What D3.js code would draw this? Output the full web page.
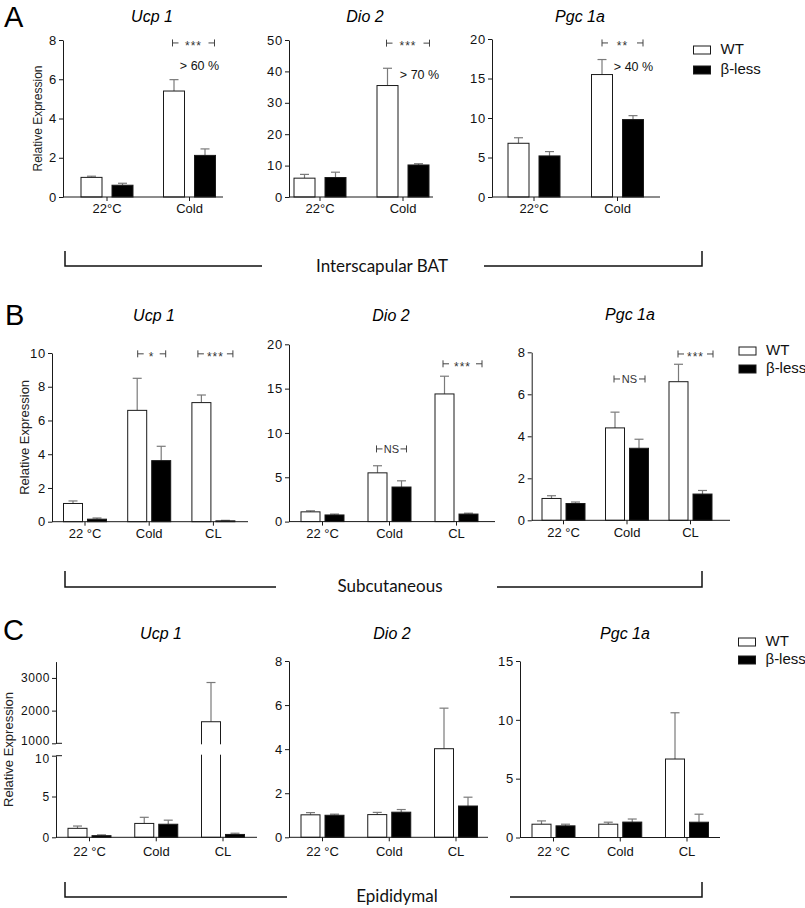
<!DOCTYPE html>
<html><head><meta charset="utf-8">
<script src="https://cdn.jsdelivr.net/npm/d3@7"></script>
<style>body{margin:0;background:#fff} svg{display:block}</style>
</head><body>
<svg id="chart" width="805" height="908"></svg>
<script>
// ---------- DATA ----------
const series = ["WT", "β-less"];
const catsA = ["22°C", "Cold"];
const catsBC = ["22 °C", "Cold", "CL"];

// Panel A – Interscapular BAT
const aUcp1WT = [1.0, 5.4],   aUcp1WTErr = [0.06, 0.58];
const aUcp1KO = [0.6, 2.12],  aUcp1KOErr = [0.1, 0.33];
const aDio2WT = [6.0, 35.5],  aDio2WTErr = [1.2, 5.5];
const aDio2KO = [6.2, 10.2],  aDio2KOErr = [1.7, 0.4];
const aPgcWT  = [6.8, 15.5],  aPgcWTErr  = [0.7, 1.9];
const aPgcKO  = [5.2, 9.8],   aPgcKOErr  = [0.55, 0.5];
// Panel B – Subcutaneous
const bUcp1WT = [1.08, 6.6, 7.06], bUcp1WTErr = [0.15, 1.9, 0.45];
const bUcp1KO = [0.15, 3.62, 0.05], bUcp1KOErr = [0.07, 0.85, 0.03];
const bDio2WT = [1.1, 5.5, 14.4],  bDio2WTErr = [0.12, 0.8, 2.0];
const bDio2KO = [0.75, 3.9, 0.85], bDio2KOErr = [0.1, 0.7, 0.1];
const bPgcWT  = [1.04, 4.4, 6.6],  bPgcWTErr  = [0.13, 0.75, 0.83];
const bPgcKO  = [0.8, 3.43, 1.25], bPgcKOErr  = [0.07, 0.43, 0.17];
// Panel C – Epididymal
const cUcp1WT = [1.1, 1.7, 1660],  cUcp1WTErr = [0.28, 0.75, 1200];
const cUcp1KO = [0.2, 1.6, 0.35],  cUcp1KOErr = [0.1, 0.5, 0.15];
const cDio2WT = [1.02, 1.03, 4.02], cDio2WTErr = [0.1, 0.1, 1.84];
const cDio2KO = [1.0, 1.14, 1.42],  cDio2KOErr = [0.05, 0.12, 0.4];
const cPgcWT  = [1.13, 1.13, 6.67], cPgcWTErr  = [0.28, 0.17, 3.93];
const cPgcKO  = [0.99, 1.31, 1.3],  cPgcKOErr  = [0.14, 0.26, 0.68];

// tick labels
const ticksAUcp1 = [0, 2, 4, 6, 8];
const ticksADio2 = [0, 10, 20, 30, 40, 50];
const ticksAPgc  = [0, 5, 10, 15, 20];
const ticksBUcp1 = [0, 2, 4, 6, 8, 10];
const ticksBDio2 = [0, 5, 10, 15, 20];
const ticksBPgc  = [0, 2, 4, 6, 8];
const ticksCUcp1Low = [0, 5, 10];
const ticksCUcp1High = [1000, 2000, 3000];
const ticksCDio2 = [0, 2, 4, 6, 8];
const ticksCPgc  = [0, 5, 10, 15];

// significance annotations
const sigAUcp1 = [{cat: "Cold", text: "***", y: 7.85, note: "> 60 %", noteY: 6.45}];
const sigADio2 = [{cat: "Cold", text: "***", y: 49, note: "> 70 %", noteY: 37.5}];
const sigAPgc  = [{cat: "Cold", text: "**",  y: 19.5, note: "> 40 %", noteY: 16.0}];
const sigBUcp1 = [{cat: "Cold", text: "*", y: 9.95}, {cat: "CL", text: "***", y: 9.95}];
const sigBDio2 = [{cat: "Cold", text: "NS", y: 8.2}, {cat: "CL", text: "***", y: 17.8}];
const sigBPgc  = [{cat: "Cold", text: "NS", y: 6.73}, {cat: "CL", text: "***", y: 7.92}];

const panelLetters = ["A", "B", "C"];
const tissues = ["Interscapular BAT", "Subcutaneous", "Epididymal"];

// ---------- LAYOUT ----------
const svg = d3.select("#chart");
const FONT = "'Liberation Sans', Arial, Helvetica, sans-serif";
const STROKE = "#1a1a1a";
const ERR = "#7a7a7a";

const charts = [
  {title: "Ucp 1", cats: catsA, wt: aUcp1WT, wtE: aUcp1WTErr, ko: aUcp1KO, koE: aUcp1KOErr, ticks: ticksAUcp1,
   yMax: 8, axisX: 63, yBase: 197, yTop: 40, xEnd: 223, c0: 107, step: 82.5, barW: 21, gap: 10,
   titleX: 152, titleY: 22, ylab: {x: 42, size: 12}, sig: sigAUcp1, sigDx: [4], sigHw: [21], noteDx: 10},
  {title: "Dio 2", cats: catsA, wt: aDio2WT, wtE: aDio2WTErr, ko: aDio2KO, koE: aDio2KOErr, ticks: ticksADio2,
   yMax: 50, axisX: 289, yBase: 197, yTop: 40, xEnd: 433, c0: 320, step: 83, barW: 21, gap: 10,
   titleX: 365, titleY: 22, sig: sigADio2, sigDx: [5], sigHw: [21.5], noteDx: 16.5},
  {title: "Pgc 1a", cats: catsA, wt: aPgcWT, wtE: aPgcWTErr, ko: aPgcKO, koE: aPgcKOErr, ticks: ticksAPgc,
   yMax: 20, axisX: 492, yBase: 197, yTop: 39, xEnd: 660, c0: 534, step: 83.5, barW: 21, gap: 10,
   titleX: 580, titleY: 22, sig: sigAPgc, sigDx: [5], sigHw: [20.5], noteDx: 16},

  {title: "Ucp 1", cats: catsBC, wt: bUcp1WT, wtE: bUcp1WTErr, ko: bUcp1KO, koE: bUcp1KOErr, ticks: ticksBUcp1,
   yMax: 10, axisX: 52, yBase: 521.7, yTop: 353, xEnd: 248, c0: 85, step: 64.2, barW: 19, gap: 5,
   titleX: 154, titleY: 321, ylab: {x: 28.5, size: 13}, sig: sigBUcp1, sigDx: [2.5, 2], sigHw: [14, 17.5]},
  {title: "Dio 2", cats: catsBC, wt: bDio2WT, wtE: bDio2WTErr, ko: bDio2KO, koE: bDio2KOErr, ticks: ticksBDio2,
   yMax: 20, axisX: 289, yBase: 521.6, yTop: 344.3, xEnd: 495, c0: 322.5, step: 67, barW: 19, gap: 5,
   titleX: 391, titleY: 321, sig: sigBDio2, sigDx: [2, 6], sigHw: [15, 19.5]},
  {title: "Pgc 1a", cats: catsBC, wt: bPgcWT, wtE: bPgcWTErr, ko: bPgcKO, koE: bPgcKOErr, ticks: ticksBPgc,
   yMax: 8, axisX: 531.7, yBase: 520.3, yTop: 352.3, xEnd: 730, c0: 563.5, step: 63.5, barW: 19, gap: 5,
   titleX: 630, titleY: 320, sig: sigBPgc, sigDx: [2.5, 5], sigHw: [15.5, 17.5]},

  {title: "Ucp 1", cats: catsBC, wt: cUcp1WT, wtE: cUcp1WTErr, ko: cUcp1KO, koE: cUcp1KOErr, ticks: ticksCUcp1Low,
   ticksHigh: ticksCUcp1High, broken: {lowMax: 10, lowTop: 755.7, highMin: 1000, highMax: 3500, highBase: 743.3, highTop: 661.6},
   yMax: 10, axisX: 56, yBase: 837.3, yTop: 755.7, xEnd: 257, c0: 89.5, step: 66.75, barW: 19, gap: 5,
   titleX: 161, titleY: 639, ylab: {x: 12.5, size: 13}, labPad: 5},
  {title: "Dio 2", cats: catsBC, wt: cDio2WT, wtE: cDio2WTErr, ko: cDio2KO, koE: cDio2KOErr, ticks: ticksCDio2,
   yMax: 8, axisX: 289, yBase: 837.3, yTop: 661, xEnd: 488, c0: 322.5, step: 66.75, barW: 19, gap: 5,
   titleX: 392, titleY: 639, labPad: 5},
  {title: "Pgc 1a", cats: catsBC, wt: cPgcWT, wtE: cPgcWTErr, ko: cPgcKO, koE: cPgcKOErr, ticks: ticksCPgc,
   yMax: 15, axisX: 520, yBase: 837.5, yTop: 661, xEnd: 720, c0: 553.5, step: 66.75, barW: 19, gap: 5,
   titleX: 625, titleY: 639, labPad: 5}
];

function styleAxis(sel) {
  sel.select(".domain").attr("stroke", STROKE).attr("stroke-width", 1);
  sel.selectAll(".tick line").attr("stroke", STROKE).attr("stroke-width", 1);
  sel.selectAll(".tick text").attr("fill", "#111").attr("font-family", FONT).attr("font-size", 13);
}

function drawChart(c) {
  const g = svg.append("g");
  const x0 = d3.scaleBand().domain(c.cats)
    .range([c.c0 - c.step / 2, c.c0 - c.step / 2 + c.step * c.cats.length]);
  const pairW = 2 * c.barW + c.gap;
  const x1 = d3.scaleBand().domain(series).range([-pairW / 2, pairW / 2])
    .paddingInner(c.gap / (c.barW + c.gap));
  const cx = cat => x0(cat) + x0.bandwidth() / 2;

  let y, yLow, yHigh;
  if (c.broken) {
    const b = c.broken;
    yLow = d3.scaleLinear().domain([0, b.lowMax]).range([c.yBase, b.lowTop]);
    yHigh = d3.scaleLinear().domain([b.highMin, b.highMax]).range([b.highBase, b.highTop]);
    y = v => v <= b.lowMax ? yLow(v) : yHigh(v);
  } else {
    yLow = d3.scaleLinear().domain([0, c.yMax]).range([c.yBase, c.yTop]);
    y = yLow;
  }

  const rows = [];
  c.cats.forEach((cat, i) => {
    rows.push({cat, s: series[0], v: c.wt[i], e: c.wtE[i]});
    rows.push({cat, s: series[1], v: c.ko[i], e: c.koE[i]});
  });

  // error bars (upper only)
  const eg = g.append("g").attr("stroke", ERR).attr("stroke-width", 1.2).attr("fill", "none");
  rows.forEach(d => {
    const xm = cx(d.cat) + x1(d.s) + x1.bandwidth() / 2;
    eg.append("line").attr("x1", xm).attr("x2", xm).attr("y1", y(d.v)).attr("y2", y(d.v + d.e));
    eg.append("line").attr("x1", xm - 4.5).attr("x2", xm + 4.5).attr("y1", y(d.v + d.e)).attr("y2", y(d.v + d.e));
  });

  // bars
  g.append("g").selectAll("rect").data(rows).join("rect")
    .attr("x", d => cx(d.cat) + x1(d.s))
    .attr("width", x1.bandwidth())
    .attr("y", d => y(d.v))
    .attr("height", d => c.yBase - y(d.v))
    .attr("fill", d => d.s === series[0] ? "#fff" : "#000")
    .attr("stroke", STROKE).attr("stroke-width", 1);

  if (c.broken) {
    rows.filter(d => d.v > c.broken.lowMax).forEach(d => {
      g.append("rect").attr("x", cx(d.cat) + x1(d.s) - 1).attr("width", x1.bandwidth() + 2)
        .attr("y", c.broken.highBase + 1).attr("height", c.broken.lowTop - c.broken.highBase - 2)
        .attr("fill", "#fff");
    });
  }

  // y axis
  const ay = g.append("g").attr("transform", `translate(${c.axisX},0)`)
    .call(d3.axisLeft(yLow).tickValues(c.ticks).tickFormat(d3.format("d")).tickSize(4).tickSizeOuter(0).tickPadding(2));
  styleAxis(ay);
  ay.selectAll(".tick text").attr("letter-spacing", 0.8);
  if (c.broken) {
    ay.selectAll(".tick text").attr("font-size", 12)
      .attr("dy", d => d === c.broken.lowMax ? "0.6em" : "0.32em");
    const ay2 = g.append("g").attr("transform", `translate(${c.axisX},0)`)
      .call(d3.axisLeft(yHigh).tickValues(c.ticksHigh).tickFormat(d3.format("d")).tickSize(4).tickSizeOuter(0).tickPadding(2));
    styleAxis(ay2);
    ay2.selectAll(".tick text").attr("letter-spacing", 0.6).attr("font-size", 12)
      .attr("dy", d => d === c.broken.highMin ? "0.1em" : "0.32em");
    [c.broken.highBase, c.broken.lowTop].forEach(yy => {
      g.append("line").attr("x1", c.axisX).attr("x2", c.axisX + 6).attr("y1", yy).attr("y2", yy)
        .attr("stroke", STROKE).attr("stroke-width", 1);
    });
  }

  // x axis
  const ax = g.append("g").attr("transform", `translate(0,${c.yBase})`)
    .call(d3.axisBottom(x0).tickSize(4).tickSizeOuter(0).tickPadding(c.labPad || 3));
  ax.select(".domain").remove();
  styleAxis(ax);
  g.append("line").attr("x1", c.axisX).attr("x2", c.xEnd).attr("y1", c.yBase).attr("y2", c.yBase)
    .attr("stroke", STROKE).attr("stroke-width", 1);

  // title
  g.append("text").attr("x", c.titleX).attr("y", c.titleY).attr("text-anchor", "middle")
    .attr("font-family", FONT).attr("font-style", "italic").attr("font-size", 16).text(c.title);

  // y label
  if (c.ylab) {
    const top = c.broken ? c.broken.highTop : c.yTop;
    g.append("text").attr("transform", `translate(${c.ylab.x},${(top + c.yBase) / 2}) rotate(-90)`)
      .attr("text-anchor", "middle").attr("font-family", FONT).attr("font-size", c.ylab.size)
      .attr("fill", "#222").text("Relative Expression");
  }

  // significance
  (c.sig || []).forEach((s, k) => {
    const xc = cx(s.cat) + c.sigDx[k];
    const hw = c.sigHw[k];
    const yy = y(s.y);
    const x1p = xc - hw, x2p = xc + hw;
    const sg = g.append("g").attr("stroke", "#444").attr("stroke-width", 1);
    sg.append("line").attr("x1", x1p).attr("x2", x1p).attr("y1", yy - 3.5).attr("y2", yy + 3.5);
    sg.append("line").attr("x1", x2p).attr("x2", x2p).attr("y1", yy - 3.5).attr("y2", yy + 3.5);
    sg.append("line").attr("x1", x1p).attr("x2", x1p + 6).attr("y1", yy).attr("y2", yy);
    sg.append("line").attr("x1", x2p - 6).attr("x2", x2p).attr("y1", yy).attr("y2", yy);
    const isStar = s.text.indexOf("*") >= 0;
    g.append("text").attr("x", xc).attr("y", yy + (isStar ? 7 : 4.5)).attr("text-anchor", "middle")
      .attr("font-family", FONT).attr("font-size", isStar ? 12 : 11).attr("fill", "#333")
      .attr("letter-spacing", isStar ? 1 : 0).text(s.text);
    if (s.note) {
      g.append("text").attr("x", cx(s.cat) + c.noteDx).attr("y", y(s.noteY)).attr("text-anchor", "middle")
        .attr("font-family", FONT).attr("font-size", 12.5).attr("fill", "#111").text(s.note);
    }
  });
}

charts.forEach(drawChart);

// legends
function legend(x, y1, y2) {
  const g = svg.append("g");
  [y1, y2].forEach((yy, i) => {
    g.append("rect").attr("x", x).attr("y", yy - 8).attr("width", 17).attr("height", 8)
      .attr("fill", i === 0 ? "#fff" : "#000").attr("stroke", STROKE).attr("stroke-width", 1);
    g.append("text").attr("x", x + 27).attr("y", yy).attr("font-family", FONT).attr("font-size", 15)
      .attr("fill", "#111").text(series[i]);
  });
}
legend(693.5, 54, 74);
legend(739, 355, 373);
legend(738.5, 646, 664);

// tissue brackets
function bracket(i, yTop, yLine, gapL, gapR, tx, ty) {
  const g = svg.append("g").attr("stroke", "#111").attr("stroke-width", 1.5).attr("fill", "none");
  g.append("path").attr("d", `M65,${yTop}V${yLine}H${gapL}`);
  g.append("path").attr("d", `M${gapR},${yLine}H702V${yTop}`);
  svg.append("text").attr("x", tx).attr("y", ty).attr("text-anchor", "middle")
    .attr("font-family", "Lato, 'Open Sans', sans-serif").attr("font-size", 17).attr("fill", "#111")
    .text(tissues[i]);
}
bracket(0, 251, 266, 262, 484, 382, 272);
bracket(1, 571, 587, 276, 497, 390, 592);
bracket(2, 882, 897, 287, 510, 397, 902);

// panel letters
[[4, 27], [5, 325], [3, 640]].forEach((p, i) => {
  svg.append("text").attr("x", p[0]).attr("y", p[1]).attr("font-family", FONT).attr("font-size", 29)
    .attr("fill", "#000").text(panelLetters[i]);
});
</script>
</body></html>
